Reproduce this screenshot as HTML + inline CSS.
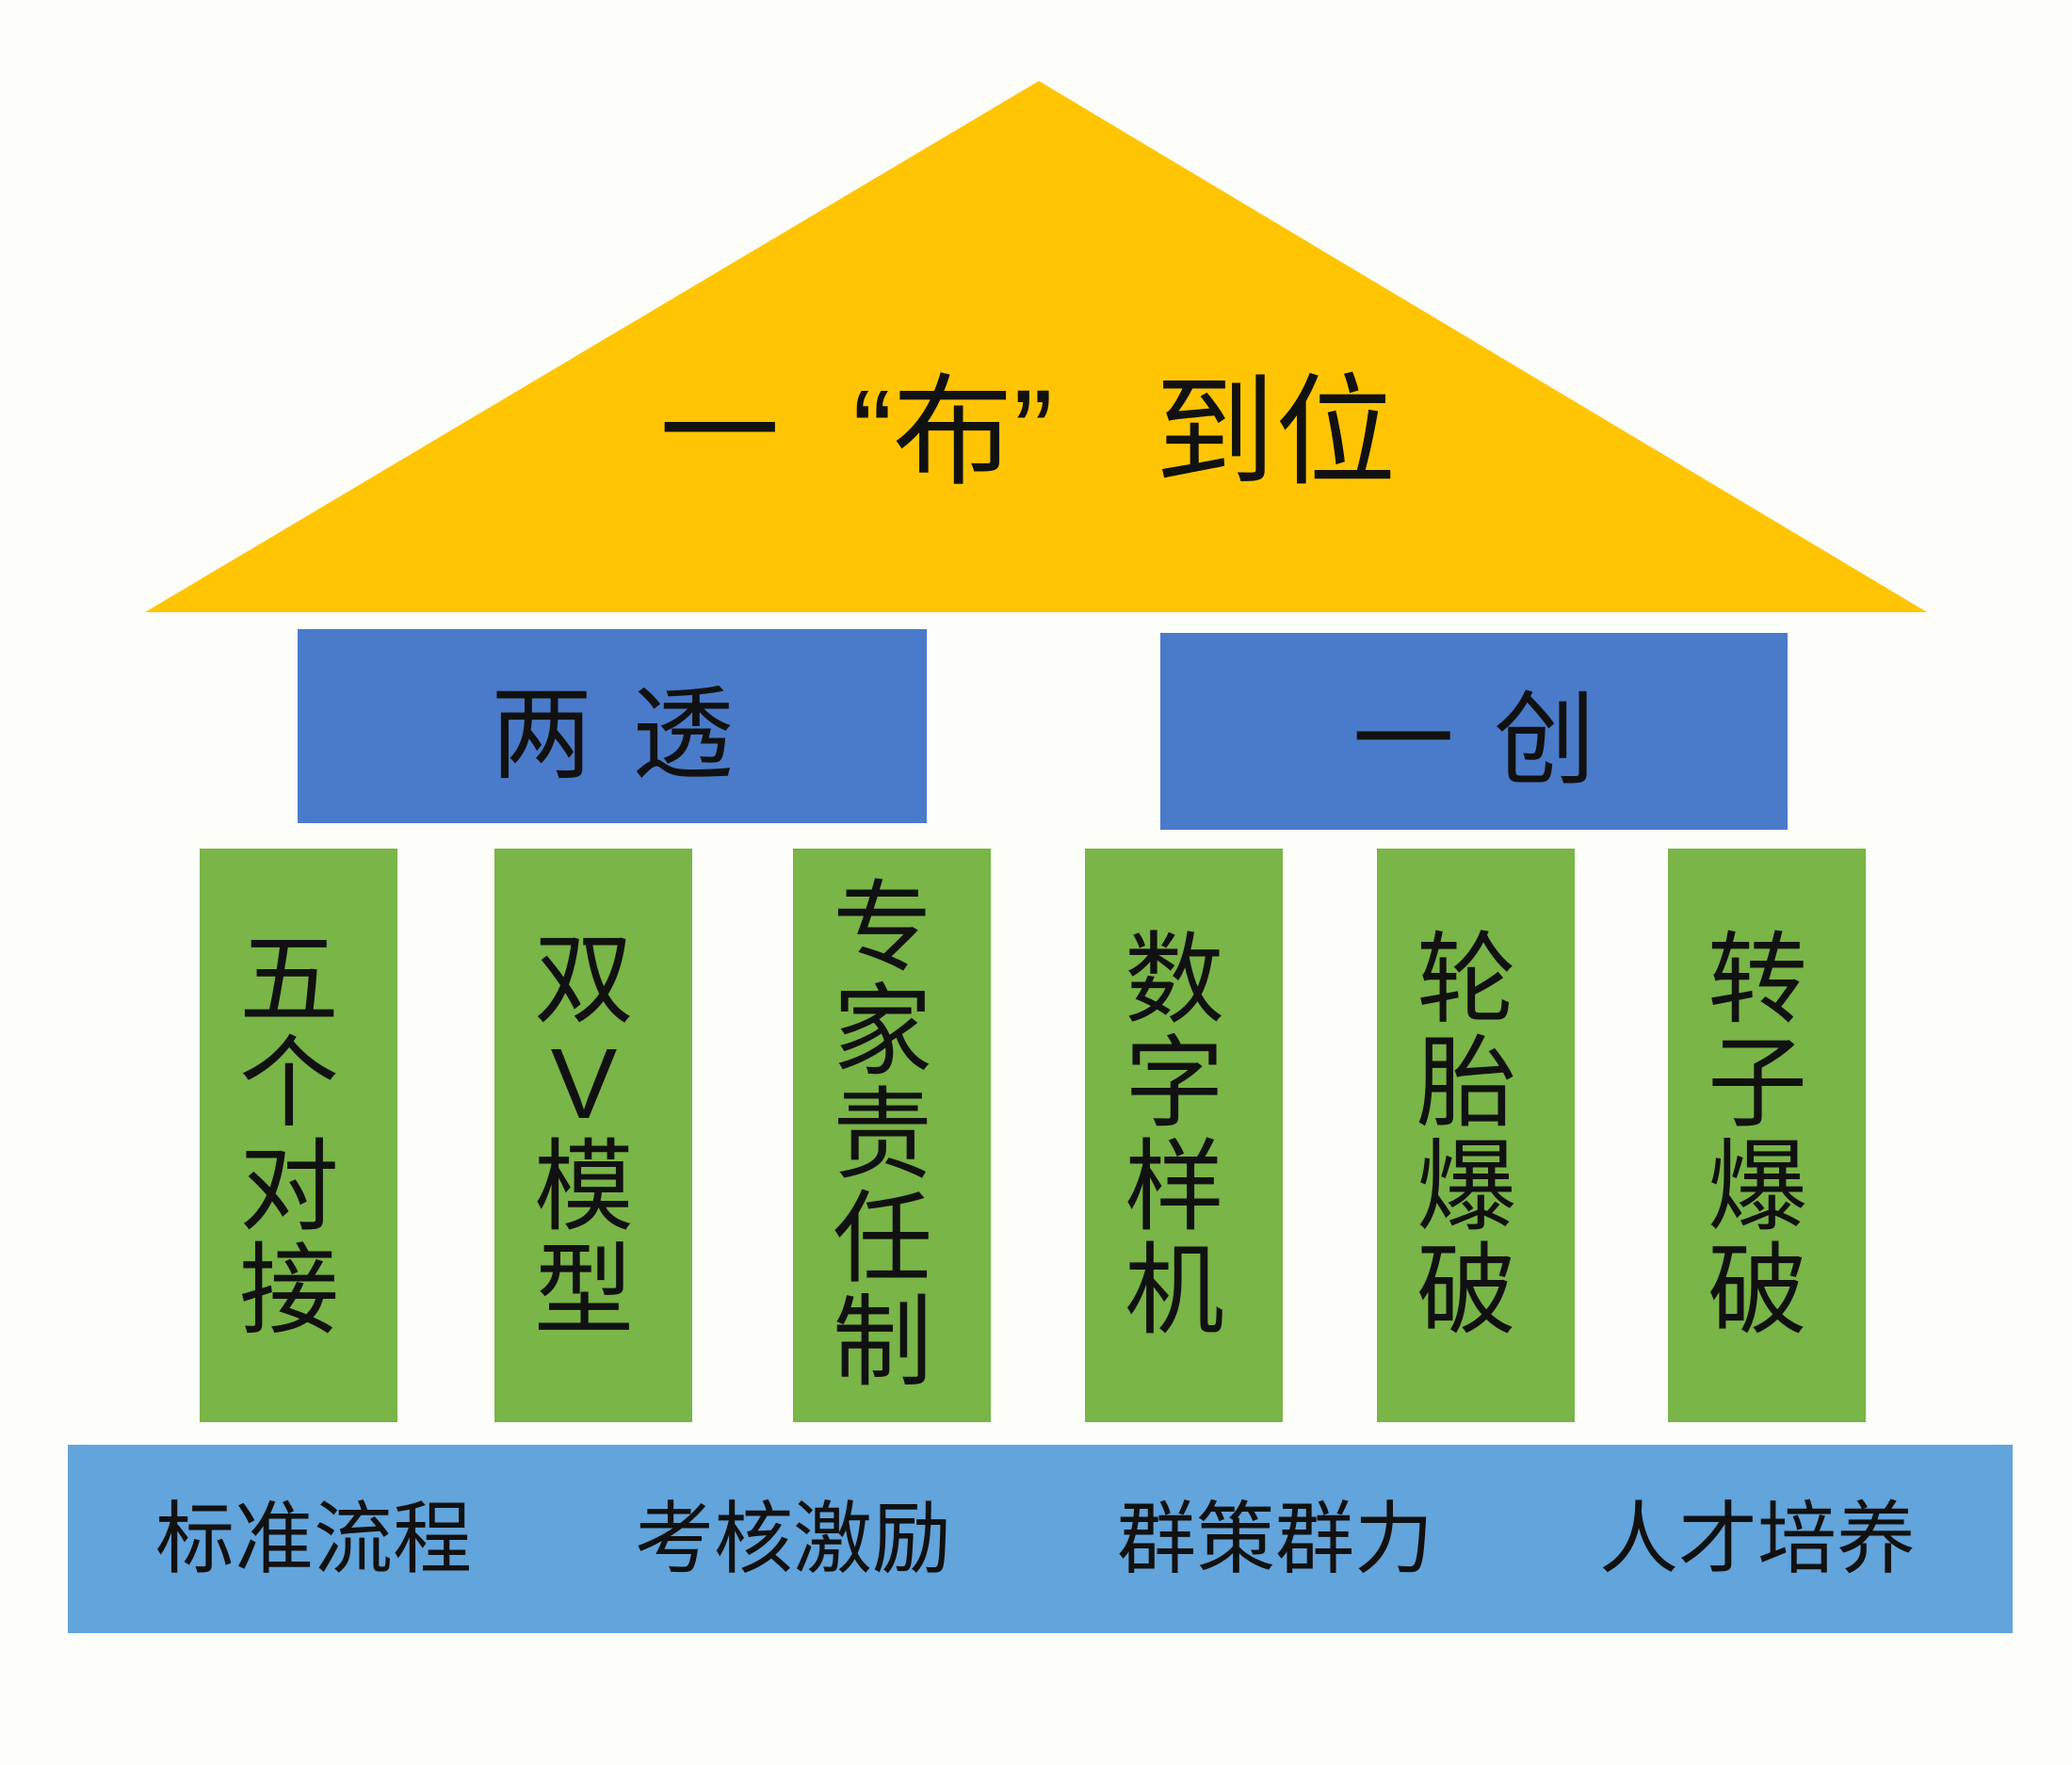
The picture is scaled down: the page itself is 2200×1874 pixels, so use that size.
<!DOCTYPE html>
<html><head><meta charset="utf-8"><style>
body{margin:0;width:2200px;height:1874px;background:#fdfdf9;position:relative;overflow:hidden;font-family:"Liberation Sans","Noto Sans CJK SC",sans-serif;color:#111}
.b{position:absolute;display:flex;align-items:center;justify-content:center}
.t{position:absolute;top:385px;font-size:128px;line-height:150px;white-space:nowrap}
.col{position:absolute;top:901px;height:609px;width:210px;background:#79b547;display:flex;align-items:center;justify-content:center;font-size:106px;line-height:110px;text-align:center}
.col span{display:block;width:110px;word-break:break-all;margin-right:20px}
.bt{position:absolute;top:1586px;font-size:84px;line-height:96px;transform:translateX(-50%);white-space:nowrap}
</style></head><body>
<svg width="2200" height="1874" style="position:absolute;left:0;top:0">
<polygon points="1103,86 154,650 2046,650" fill="#ffc502"/>
</svg>
<div class="t" style="left:700px">一</div>
<div class="t" style="left:905px">“布”</div>
<div class="t" style="left:1226px">到位</div>
<div class="b" style="left:316px;top:668px;width:668px;height:206px;background:#4a7bca;font-size:108px;letter-spacing:42px;text-indent:42px">两透</div>
<div class="b" style="left:1232px;top:672px;width:666px;height:209px;background:#4a7bca;font-size:108px;letter-spacing:42px;text-indent:42px">一创</div>
<div class="col" style="left:212px"><span>五个对接</span></div>
<div class="col" style="left:525px"><span>双V模型</span></div>
<div class="col" style="left:842px"><span>专家责任制</span></div>
<div class="col" style="left:1152px"><span>数字样机</span></div>
<div class="col" style="left:1462px"><span>轮胎爆破</span></div>
<div class="col" style="left:1771px"><span>转子爆破</span></div>
<div style="position:absolute;left:72px;top:1534px;width:2065px;height:200px;background:#62a4dc"></div>
<div class="bt" style="left:333px">标准流程</div>
<div class="bt" style="left:842px">考核激励</div>
<div class="bt" style="left:1354px">群策群力</div>
<div class="bt" style="left:1866px">人才培养</div>
</body></html>
